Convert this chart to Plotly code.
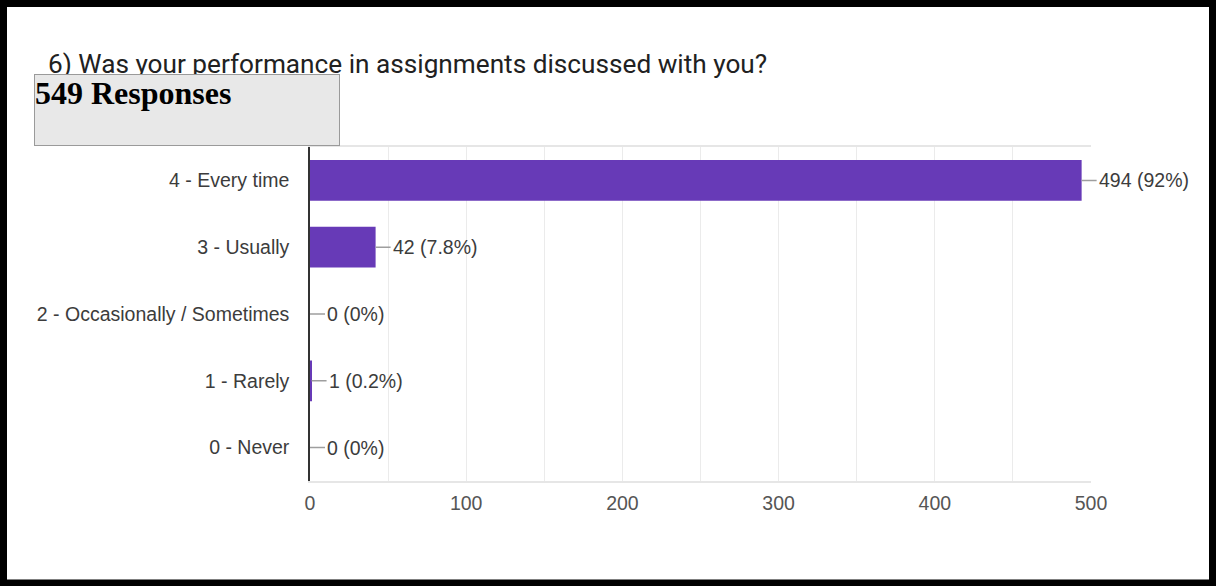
import plotly.graph_objects as go

categories = ["4 - Every time", "3 - Usually", "2 - Occasionally / Sometimes", "1 - Rarely", "0 - Never"]
counts = [494, 42, 0, 1, 0]
percent_labels = ["92%", "7.8%", "0%", "0.2%", "0%"]
x_ticks = [0, 100, 200, 300, 400, 500]
title_text = "6) Was your performance in assignments discussed with you?"
responses_text = "549 Responses"

W, H = 1216, 586
L, R, T, B = 310, 1091, 147, 481  # plot area in px

LABEL_FONT = "Liberation Sans, Arial, sans-serif"


def px_x(px):
    return (px - L) / (R - L)


def px_y(py):
    return (B - py) / (B - T)


fig = go.Figure()
fig.add_trace(go.Bar(
    x=counts, y=categories, orientation="h",
    marker=dict(color="#673ab7", line=dict(width=0)),
    width=0.61, hoverinfo="skip",
))

annotations = []
for c, v, p in zip(categories, counts, percent_labels):
    annotations.append(dict(
        x=v, y=c, xref="x", yref="y", text=f"{v} ({p})",
        showarrow=True, arrowhead=0, arrowwidth=1.5, arrowcolor="#9e9e9e",
        ax=15, ay=0, xanchor="left", standoff=0, startstandoff=0,
        font=dict(family=LABEL_FONT, size=19.5, color="#3c3c3c"),
    ))

annotations.append(dict(
    x=px_x(46), y=px_y(47), xref="paper", yref="paper",
    xanchor="left", yanchor="top", showarrow=False,
    text=title_text, font=dict(family="Roboto", size=26.2, color="#212121"),
))
annotations.append(dict(
    x=px_x(34), y=px_y(74), xref="paper", yref="paper",
    xanchor="left", yanchor="top", showarrow=False,
    text="<b>" + responses_text + "</b>", align="left", valign="top",
    width=304, height=70, borderpad=0, borderwidth=1,
    bgcolor="#e8e8e8", bordercolor="#9a9a9a",
    font=dict(family="Liberation Serif", size=32, color="#000000"),
))

fig.update_layout(
    width=W, height=H,
    margin=dict(l=L, r=W - R, t=T, b=H - B, pad=0),
    paper_bgcolor="white", plot_bgcolor="white",
    showlegend=False, bargap=0.39,
    annotations=annotations,
    shapes=[dict(
        type="rect", xref="paper", yref="paper",
        x0=px_x(3.5), x1=px_x(1212.5), y0=px_y(3.5), y1=px_y(583),
        line=dict(color="black", width=7), fillcolor="rgba(0,0,0,0)", layer="above",
    )],
    xaxis=dict(
        range=[0, 500], tickvals=x_ticks, ticktext=[str(t) for t in x_ticks],
        showgrid=True, gridcolor="#ebebeb", gridwidth=1,
        minor=dict(dtick=50, showgrid=True, gridcolor="#ebebeb", gridwidth=1),
        zeroline=False, showline=True, mirror=True, linecolor="#e6e6e6", linewidth=1.5,
        ticks="", ticklabelstandoff=4,
        tickfont=dict(family=LABEL_FONT, size=19.5, color="#555555"),
    ),
    yaxis=dict(
        categoryorder="array", categoryarray=categories, autorange="reversed",
        showgrid=False, zeroline=False, showline=True, linecolor="#333333", linewidth=1.5,
        ticks="", ticklabelstandoff=15,
        tickfont=dict(family=LABEL_FONT, size=19.5, color="#3c3c3c"),
    ),
)

fig.write_html(
    "out.html",
    config={"displayModeBar": False},
    post_script="document.body.style.margin='0';document.body.style.overflow='hidden';",
)
